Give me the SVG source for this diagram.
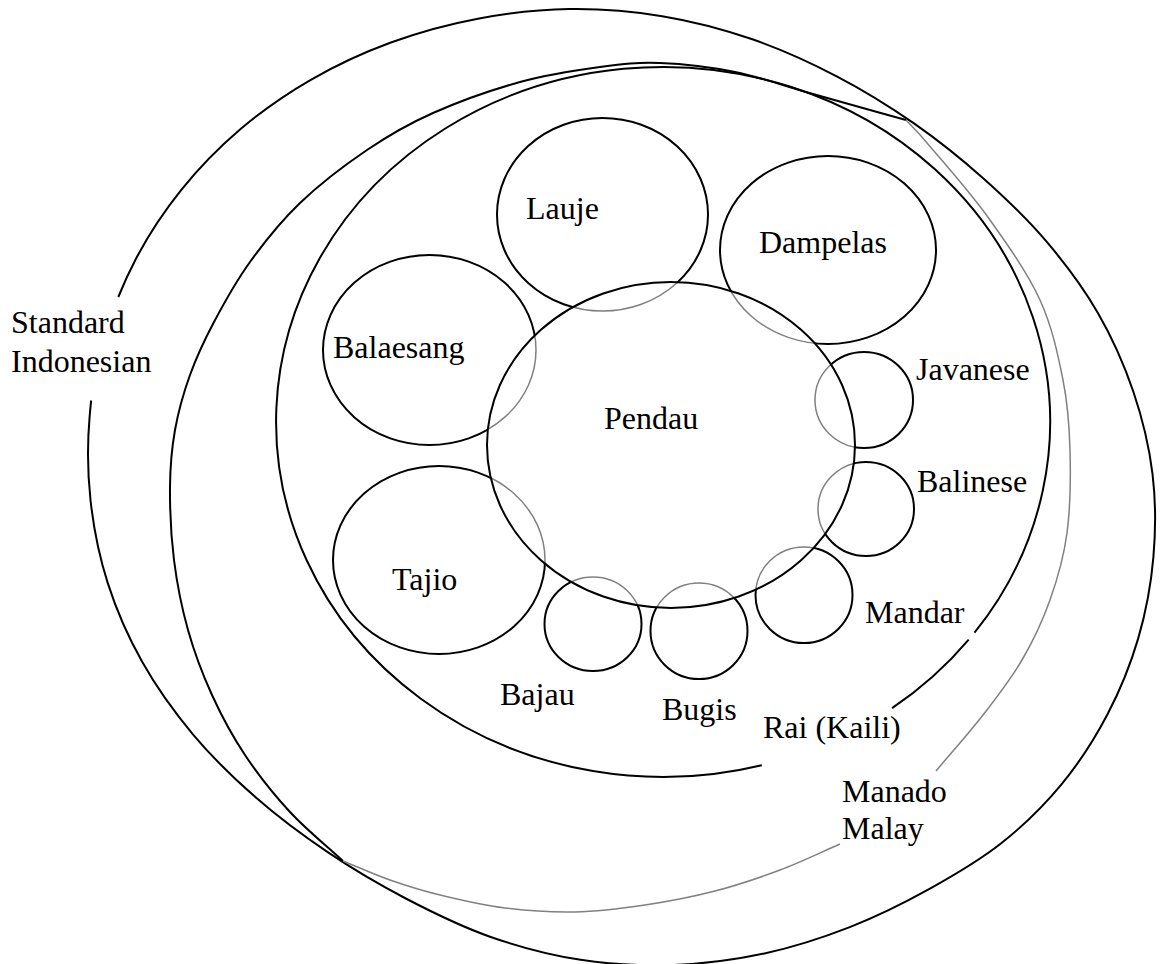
<svg xmlns="http://www.w3.org/2000/svg" width="1162" height="964" viewBox="0 0 1162 964">
<style>
.k{fill:none;stroke:#000;stroke-width:2}
.g{fill:none;stroke:#808080;stroke-width:1.5}
text{font-family:"Liberation Serif","Times New Roman",serif;font-size:32px;fill:#000}
</style>
<defs>
<clipPath id="inP"><ellipse cx="671" cy="445" rx="184" ry="163"/></clipPath>
<mask id="outP" maskUnits="userSpaceOnUse" x="0" y="0" width="1162" height="964"><rect width="1162" height="964" fill="#fff"/><ellipse cx="671" cy="445" rx="184" ry="163" fill="#000"/></mask>
</defs>
<rect width="1162" height="964" fill="#fff"/>
<g id="connectors"/>
<g id="standard-indonesian">
<path class="k" d="M118.3,297 C123.5,284.2 129.2,271.7 135.6,259.5 C148.4,235 163.85,211.6 181.3,189.9 C198.75,168.2 218.72,147.65 240.3,129.3 C261.88,110.95 285.7,94.27 310.8,79.8 C335.9,65.33 363.05,52.68 390.9,42.5 C418.75,32.32 448.15,24.27 477.9,18.7 C507.65,13.13 538.68,9.52 569.4,9.1 C600.12,8.68 631.7,11.17 662.2,16.2 C692.7,21.23 723.32,29.28 752.4,39.3 C781.48,49.32 809.77,62.28 836.7,76.3 C863.63,90.32 889.45,106.28 914,123.4 C938.55,140.52 961.9,159.28 984,179 C1006.1,198.72 1027.62,219.38 1046.6,241.7 C1065.58,264.02 1083.45,287.93 1097.9,312.9 C1112.35,337.87 1124.2,364.67 1133.3,391.5 C1142.4,418.33 1149.15,446.3 1152.5,473.9 C1155.85,501.5 1155.77,529.73 1153.4,557.1 C1151.03,584.47 1145.97,611.87 1138.3,638.1 C1130.63,664.33 1120.17,690.17 1107.4,714.5 C1094.63,738.83 1079.4,762.63 1061.7,784.1 C1044,805.57 1023.38,825.75 1001.2,843.3 C979.02,860.85 953.83,875.43 928.6,889.4 C903.37,903.37 877.15,916.43 849.8,927.1 C822.45,937.77 793.87,947.1 764.5,953.4 C735.13,959.7 704.25,963.83 673.6,964.9 C642.95,965.97 611.2,964.5 580.6,959.8 C550,955.1 519.13,946.92 490,936.7 C460.87,926.48 432.85,912.58 405.8,898.5 C378.75,884.42 352.68,869.02 327.7,852.2 C302.72,835.38 278.37,817.25 255.9,797.6 C233.43,777.95 211.83,756.88 192.9,734.3 C173.97,711.72 156.5,687.33 142.3,662.1 C128.1,636.87 116.33,609.92 107.7,582.9 C99.07,555.88 93.52,527.67 90.5,500 C87.48,472.33 87.22,444.4 89.6,416.9 C90.1,411.4 90.5,406 91.2,400.5"/>
<text x="11" y="333">Standard</text>
<text x="11" y="372">Indonesian</text>
</g>
<g id="manado-malay">
<path class="k" d="M343,861 C325.33,844.67 306.33,829.67 290,812 C273.67,794.33 258,774.5 245,755 C232,735.5 221.5,715.83 212,695 C202.5,674.17 194.33,652.5 188,630 C181.67,607.5 177,583.83 174,560 C171,536.17 169.83,508.67 170,487 C170.17,465.33 171.67,448.67 175,430 C178.33,411.33 183.5,393 190,375 C196.5,357 204,340.83 214,322 C224,303.17 235.67,281.83 250,262 C264.33,242.17 280.5,221.67 300,203 C319.5,184.33 344.83,165 367,150 C389.17,135 407.5,124.33 433,113 C458.5,101.67 492.17,89.67 520,82 C547.83,74.33 576.67,70.17 600,67 C623.33,63.83 637.5,62.17 660,63 C682.5,63.83 709.5,66.83 735,72 C760.5,77.17 784.5,86 813,94 C841.5,102 875,111.33 906,120"/>
<path class="g" d="M906,120 C915,129 920,134 933,150 C947.5,166.7 972.2,195 990,220 C1007.8,245 1027.8,273.3 1040,300 C1052.2,326.7 1058,355 1063,380 C1068,405 1069.3,424.5 1070,450 C1070.7,475.5 1070.3,508 1067,533 C1063.7,558 1057.5,578.8 1050,600 C1042.5,621.2 1033.2,640.8 1022,660 C1010.8,679.2 997.3,696.5 983,715 C968.7,733.5 951.7,752.3 936,771"/>
<path class="g" d="M840,844 C820,852.67 800.83,862.17 780,870 C759.17,877.83 737.5,885.17 715,891 C692.5,896.83 668.33,901.5 645,905 C621.67,908.5 598.33,911.5 575,912 C551.67,912.5 527.5,910.83 505,908 C482.5,905.17 459.17,899.67 440,895 C420.83,890.33 406.17,885.67 390,880 C373.83,874.33 358.67,867.33 343,861"/>
<text x="842" y="802">Manado</text>
<text x="842" y="839">Malay</text>
</g>
<g id="rai-kaili">
<path class="k" d="M761.8,765.2 A387 355 0 1 1 974.5,632.7"/>
<path class="k" d="M968.7,639.6 A387 355 0 0 1 892.1,708.1"/>
<text x="763" y="738">Rai (Kaili)</text>
</g>
<g id="lauje">
<ellipse class="k" mask="url(#outP)" cx="602.5" cy="214.5" rx="105.5" ry="96.5"/>
<ellipse class="g" clip-path="url(#inP)" cx="602.5" cy="214.5" rx="105.5" ry="96.5"/>
<text x="526" y="219">Lauje</text>
</g>
<g id="dampelas">
<ellipse class="k" mask="url(#outP)" cx="828" cy="250" rx="108" ry="94"/>
<ellipse class="g" clip-path="url(#inP)" cx="828" cy="250" rx="108" ry="94"/>
<text x="759" y="253">Dampelas</text>
</g>
<g id="balaesang">
<ellipse class="k" mask="url(#outP)" cx="429.5" cy="350" rx="106.5" ry="95"/>
<ellipse class="g" clip-path="url(#inP)" cx="429.5" cy="350" rx="106.5" ry="95"/>
<text x="333" y="358">Balaesang</text>
</g>
<g id="tajio">
<ellipse class="k" mask="url(#outP)" cx="439" cy="560" rx="106" ry="94"/>
<ellipse class="g" clip-path="url(#inP)" cx="439" cy="560" rx="106" ry="94"/>
<text x="392" y="590">Tajio</text>
</g>
<g id="javanese">
<ellipse class="k" mask="url(#outP)" cx="864" cy="400" rx="49" ry="48"/>
<ellipse class="g" clip-path="url(#inP)" cx="864" cy="400" rx="49" ry="48"/>
<text x="916" y="380">Javanese</text>
</g>
<g id="balinese">
<ellipse class="k" mask="url(#outP)" cx="866" cy="509" rx="48" ry="47"/>
<ellipse class="g" clip-path="url(#inP)" cx="866" cy="509" rx="48" ry="47"/>
<text x="917" y="492">Balinese</text>
</g>
<g id="mandar">
<ellipse class="k" mask="url(#outP)" cx="804" cy="595" rx="48.5" ry="48"/>
<ellipse class="g" clip-path="url(#inP)" cx="804" cy="595" rx="48.5" ry="48"/>
<text x="865" y="623">Mandar</text>
</g>
<g id="bugis">
<ellipse class="k" mask="url(#outP)" cx="699" cy="631" rx="48.5" ry="48"/>
<ellipse class="g" clip-path="url(#inP)" cx="699" cy="631" rx="48.5" ry="48"/>
<text x="662" y="720">Bugis</text>
</g>
<g id="bajau">
<ellipse class="k" mask="url(#outP)" cx="593" cy="624" rx="48.5" ry="47"/>
<ellipse class="g" clip-path="url(#inP)" cx="593" cy="624" rx="48.5" ry="47"/>
<text x="500" y="705">Bajau</text>
</g>
<g id="pendau">
<ellipse class="k" cx="671" cy="445" rx="184" ry="163"/>
<text x="604" y="429">Pendau</text>
</g>
</svg>
